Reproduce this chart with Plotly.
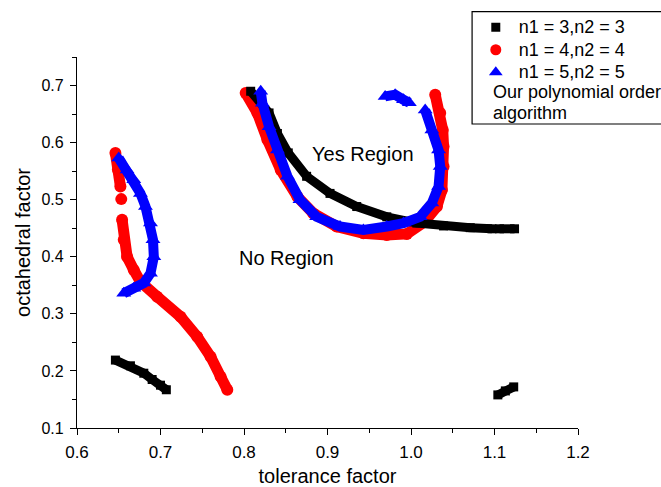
import plotly.graph_objects as go

# ---- data (tolerance factor, octahedral factor) ----
black_x = [0.808, 0.830, 0.840, 0.853, 0.875, 0.903, 0.935, 0.971, 1.007, 1.039, 1.071, 1.097, None,
           1.106, 1.124, None,
           0.646, 0.664, 0.680, 0.690, 0.700, 0.707, None,
           1.104, 1.113, 1.123]
black_y = [0.690, 0.652, 0.616, 0.582, 0.541, 0.511, 0.488, 0.470, 0.459, 0.454, 0.451, 0.449, None,
           0.449, 0.449, None,
           0.219, 0.209, 0.196, 0.185, 0.175, 0.167, None,
           0.158, 0.165, 0.172]

red_x = [0.802, 0.816, 0.828, 0.844, 0.864, 0.883, 0.911, 0.943, 0.971, 0.995, 1.016, 1.031, 1.037,
         1.039, 1.039, 1.038, 1.035, 1.029, None,
         0.646, 0.649, 0.652, None,
         0.653, None,
         0.654, 0.656, 0.660, 0.668, 0.676, 0.696, 0.724, 0.744, 0.760, 0.772, 0.780]
red_y = [0.687, 0.652, 0.605, 0.552, 0.505, 0.476, 0.453, 0.441, 0.438, 0.440, 0.461, 0.488, 0.517,
         0.558, 0.593, 0.622, 0.652, 0.684, None,
         0.582, 0.553, 0.523, None,
         0.501, None,
         0.465, 0.430, 0.400, 0.377, 0.356, 0.330, 0.295, 0.260, 0.225, 0.190, 0.167]

blue_x = [0.820, 0.822, 0.830, 0.840, 0.852, 0.867, 0.887, 0.915, 0.943, 0.971, 0.991, 1.011, 1.025,
          1.033, 1.035, 1.033, 1.025, 1.017, None,
          0.969, 0.981, 0.991, 0.998, None,
          0.650, 0.660, 0.668, 0.676, 0.682, 0.688, 0.691, 0.692, 0.688, 0.680, 0.668, 0.656]
blue_y = [0.690, 0.669, 0.628, 0.587, 0.541, 0.500, 0.470, 0.453, 0.447, 0.453, 0.459, 0.470, 0.494,
          0.523, 0.558, 0.587, 0.622, 0.657, None,
          0.681, 0.684, 0.675, 0.670, None,
          0.573, 0.552, 0.535, 0.511, 0.488, 0.459, 0.430, 0.400, 0.371, 0.354, 0.345, 0.336]

series_names = ["n1 = 3,n2 = 3", "n1 = 4,n2 = 4", "n1 = 5,n2 = 5"]
x_ticks = [0.6, 0.7, 0.8, 0.9, 1.0, 1.1, 1.2]
y_ticks = [0.1, 0.2, 0.3, 0.4, 0.5, 0.6, 0.7]

FONT = "Liberation Sans, Arial, sans-serif"

fig = go.Figure()

# data traces (drawn red, black, blue so blue sits on top)
fig.add_trace(go.Scatter(x=red_x, y=red_y, mode="lines+markers", showlegend=False,
                         line=dict(color="#ff0000", width=11), connectgaps=False,
                         marker=dict(symbol="circle", size=12, color="#ff0000")))
fig.add_trace(go.Scatter(x=black_x, y=black_y, mode="lines+markers", showlegend=False,
                         line=dict(color="#000000", width=9), connectgaps=False,
                         marker=dict(symbol="square", size=9, color="#000000")))
fig.add_trace(go.Scatter(x=blue_x, y=blue_y, mode="lines+markers", showlegend=False,
                         line=dict(color="#0000ff", width=10), connectgaps=False,
                         marker=dict(symbol="triangle-up", size=13, color="#0000ff")))

# legend entries
for name, col, sym, sz in [(series_names[0], "#000000", "square", 9),
                           (series_names[1], "#ff0000", "circle", 11),
                           (series_names[2], "#0000ff", "triangle-up", 12)]:
    fig.add_trace(go.Scatter(x=[None], y=[None], mode="markers",
                             name=f'<span style="font-size:18px">{name}</span>',
                             marker=dict(symbol=sym, size=sz, color=col)))

axis_common = dict(showline=True, linecolor="#000000", linewidth=1.3, ticks="outside",
                   ticklen=6, tickwidth=1.3, tickcolor="#000000", showgrid=False, zeroline=False,
                   mirror=False, automargin=False)

fig.update_layout(
    width=661, height=487,
    margin=dict(l=77, r=83, t=57, b=59, autoexpand=False),
    paper_bgcolor="white", plot_bgcolor="white",
    font=dict(family=FONT, color="#000000"),
    xaxis=dict(range=[0.6, 1.2], tickvals=x_ticks, ticktext=[f"{v:.1f}" for v in x_ticks],
               minor=dict(ticks="outside", ticklen=3.5, tickwidth=1.3, tickcolor="#000000", dtick=0.05, tick0=0.6),
               ticklabelstandoff=2,
               tickfont=dict(family=FONT, size=17, color="#000000"),
               title=dict(text="tolerance factor", font=dict(family=FONT, size=20), standoff=10),
               **axis_common),
    yaxis=dict(range=[0.1, 0.75], tickvals=y_ticks, ticktext=[f"{v:.1f}" for v in y_ticks],
               minor=dict(ticks="outside", ticklen=3.5, tickwidth=1.3, tickcolor="#000000", dtick=0.05, tick0=0.1),
               ticklabelstandoff=3,
               tickfont=dict(family=FONT, size=16, color="#000000"),
               title=dict(text="octahedral factor", font=dict(family=FONT, size=20), standoff=5),
               **axis_common),
    legend=dict(x=0.790, y=1.124, xanchor="left", yanchor="top", bgcolor="rgba(0,0,0,0)",
                borderwidth=0, font=dict(family=FONT, size=15, color="#000000"),
                itemwidth=36, tracegroupgap=0),
    shapes=[dict(type="rect", xref="paper", yref="paper", x0=0.7886, x1=1.2, y0=0.8194, y1=1.1221,
                 line=dict(color="#000000", width=1.2), fillcolor="rgba(0,0,0,0)")],
    annotations=[
        dict(text="Yes Region", x=0.9423, y=0.5803, xref="x", yref="y", showarrow=False,
             font=dict(family=FONT, size=20, color="#000000")),
        dict(text="No Region", x=0.8507, y=0.398, xref="x", yref="y", showarrow=False,
             font=dict(family=FONT, size=20, color="#000000")),
        dict(text="Our polynomial order", x=0.8265, y=0.9057, xref="paper", yref="paper",
             xanchor="left", yanchor="middle", showarrow=False,
             font=dict(family=FONT, size=18, color="#000000")),
        dict(text="algorithm", x=0.8265, y=0.8491, xref="paper", yref="paper",
             xanchor="left", yanchor="middle", showarrow=False,
             font=dict(family=FONT, size=18, color="#000000")),
    ],
)

fig.write_html("out.html")
